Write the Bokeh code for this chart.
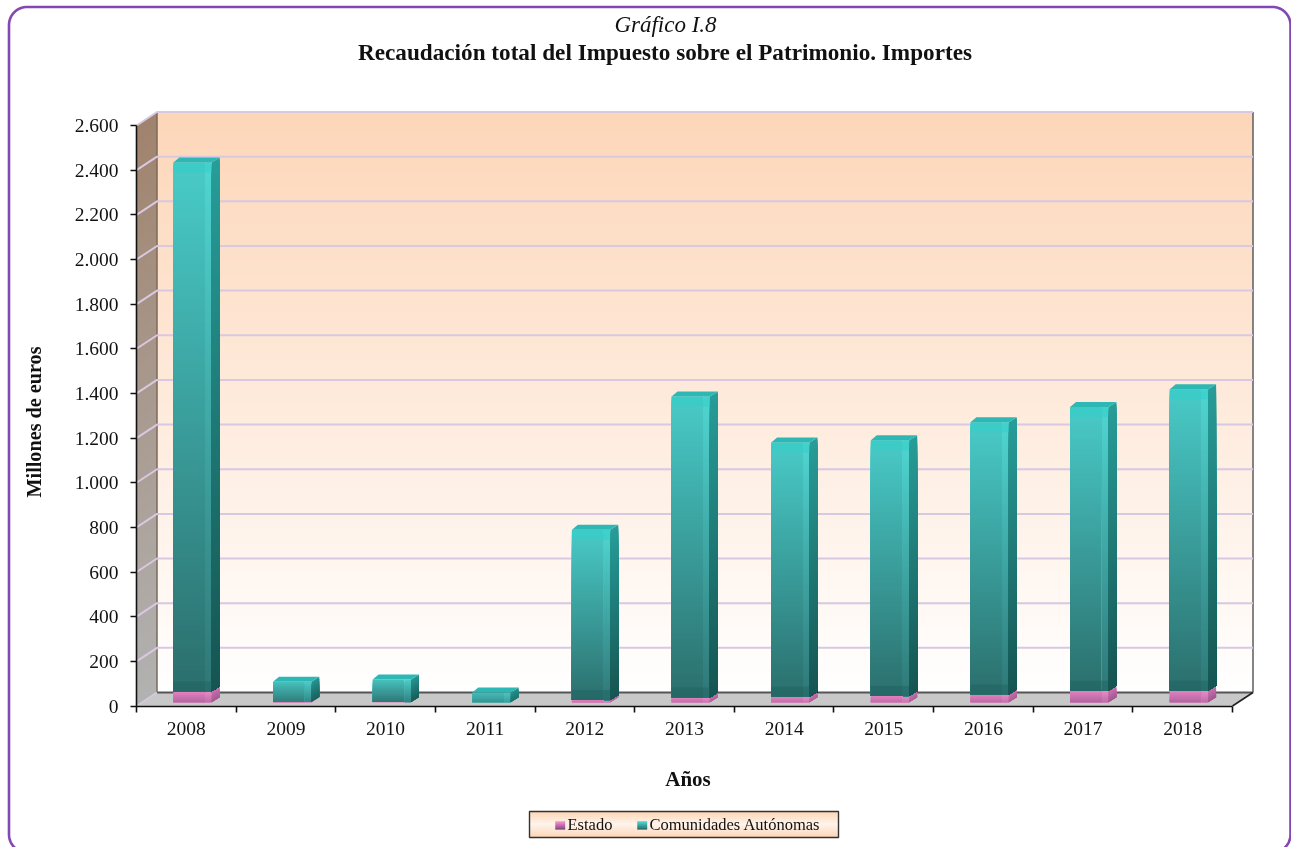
from bokeh.plotting import figure
from bokeh.models import Range1d, LinearAxis, FixedTicker
from bokeh.core.properties import value
from bokeh.embed import file_html
from bokeh.resources import INLINE
import numpy as np

years = ["2008", "2009", "2010", "2011", "2012", "2013", "2014", "2015", "2016", "2017", "2018"]
estado = [49, 2, 1, 0, 10, 22, 25, 28, 35, 52, 52]
ccaa = [2369, 90, 101, 44, 763, 1348, 1139, 1146, 1219, 1271, 1350]
y_ticks = list(range(0, 2601, 200))
y_tick_labels = ["0", "200", "400", "600", "800", "1.000", "1.200", "1.400", "1.600", "1.800", "2.000", "2.200", "2.400", "2.600"]

W, H = 1291, 847
X0, Y0 = 136.0, 705.5
PX = 99.636
PY = (705.5 - 125.0) / 2600
WALL_DX, WALL_DY = 20.5 / PX, 13.5 / PY
FONT = "Liberation Serif"


def hex2rgb(c):
    return np.array([int(c[i:i + 2], 16) for i in (1, 3, 5)], dtype=float)


def mix(a, b, t):
    v = hex2rgb(a) * (1 - t) + hex2rgb(b) * t
    return "#%02x%02x%02x" % tuple(int(round(k)) for k in v)


p = figure(width=W, height=H, output_backend="svg", toolbar_location=None,
           x_axis_type=None, y_axis_type=None,
           x_range=Range1d((0 - X0) / PX, (W - X0) / PX),
           y_range=Range1d(-(H - Y0) / PY, Y0 / PY),
           min_border=0, outline_line_color=None,
           styles={"position": "fixed", "left": "0px", "top": "0px"})
p.grid.visible = False
p.extra_x_ranges["px"] = Range1d(0, W)
p.extra_y_ranges["px"] = Range1d(H, 0)
PXR = dict(x_range_name="px", y_range_name="px")

# outer rounded frame
r, L, R, T, B = 18, 8.5, 1290, 6.5, 852
a = np.linspace(0, np.pi / 2, 20)
fx = np.concatenate([L + r - r * np.cos(a), R - r + r * np.sin(a), R - r + r * np.cos(a), L + r - r * np.sin(a), [L]])
fy = np.concatenate([T + r - r * np.sin(a), T + r - r * np.cos(a), B - r + r * np.sin(a), B - r + r * np.cos(a), [T + r]])
p.line(fx, fy, line_color="#8248b4", line_width=2.6, **PXR)

# back wall with vertical gradient, painted from the top down so no seams show
n = 145
edges = np.linspace(0, 2600, n + 1)
order = list(range(n - 1, -1, -1))
p.quad(left=WALL_DX, right=11 + WALL_DX, bottom=WALL_DY, top=[edges[i + 1] + WALL_DY for i in order],
       fill_color=[mix("#ffffff", "#fdd6b8", (i + .5) / n) for i in order], line_color=None)

# left wall
p.patches([[0, WALL_DX, WALL_DX, 0] for i in order],
          [[0, WALL_DY, edges[i + 1] + WALL_DY, edges[i + 1]] for i in order],
          fill_color=[mix("#b2b2b2", "#a0836d", (i + .5) / n) for i in order], line_color=None)

# floor
p.patch([0, WALL_DX, 11 + WALL_DX, 11], [0, WALL_DY, WALL_DY, 0], fill_color="#c8c8c8", line_color=None)
p.line([WALL_DX, 11 + WALL_DX], [WALL_DY, WALL_DY], line_color="#555555", line_width=2)
p.line([WALL_DX, WALL_DX], [WALL_DY, 2600 + WALL_DY], line_color="#7a6a5c", line_width=1.5)
p.line([11 + WALL_DX, 11 + WALL_DX], [WALL_DY, 2600 + WALL_DY], line_color="#666666", line_width=1.6)
p.line([11, 11 + WALL_DX], [0, WALL_DY], line_color="#222222", line_width=1.6)

# gridlines
for v in y_ticks[1:]:
    p.line([0, WALL_DX, 11 + WALL_DX], [v, v + WALL_DY, v + WALL_DY], line_color="#d8c8e2", line_width=2)
p.line([0, WALL_DX], [0, WALL_DY], line_color="#d8c8e2", line_width=1.5)

# 3D bars
BAR_L, BAR_R, STRIP = 0.37, 0.755, 0.065
DX, DY = 0.08, 5 / PY
BASE = 3.7 / PY
BEVEL = 10 / PY
STYLE = {
    "ca": dict(front=("#2b6f6d", "#49cbc8"), strip=("#2f7877", "#50d6d2"), side=("#165552", "#289d99"),
               top="#2db8b5", bevel_top="#30cdc8", bevel_bot="#1f6160"),
    "es": dict(front=("#8a4f88", "#f58cca"), strip=("#96588f", "#f994d2"), side=("#7c4679", "#dc78b8"),
               top="#f58ccb", bevel_top="#f58ccb", bevel_bot="#8a4f88"),
}


def draw_bar(i, lo, hi, st):
    if hi - lo <= 0:
        return
    h = (hi - lo) * PY
    m = max(6, int(h / 2))
    e = np.linspace(lo, hi, m + 1)
    bl, br = i + BAR_L, i + BAR_R
    short = min(1.0, 0.35 + h / 40)   # short bars keep a narrower colour range
    order = list(range(m - 1, -1, -1))

    def shade(pair):
        low = mix(pair[1], pair[0], short)
        top = mix(pair[1], pair[0], 0.22 * (1 - min(1.0, h / 40)))
        return [mix(low, top, (k + .5) / m) for k in order]

    p.quad(left=bl, right=br - STRIP, bottom=lo, top=[e[k + 1] for k in order],
           fill_color=shade(st["front"]), line_color=None)
    p.quad(left=br - STRIP, right=br, bottom=lo, top=[e[k + 1] for k in order],
           fill_color=shade(st["strip"]), line_color=None)
    p.patches([[br, br + DX, br + DX, br] for k in order],
              [[lo, lo + DY, e[k + 1] + DY, e[k + 1]] for k in order],
              fill_color=shade(st["side"]), line_color=None)
    if h > 30:
        p.quad(left=bl, right=br, bottom=hi - BEVEL, top=hi, fill_color=st["bevel_top"], fill_alpha=0.5, line_color=None)
        p.quad(left=bl, right=br, bottom=lo, top=lo + BEVEL, fill_color=st["bevel_bot"], fill_alpha=0.45, line_color=None)
    p.patch([bl, bl + DX * 0.75, br + DX, br], [hi, hi + DY, hi + DY, hi],
            fill_color=st["top"], line_color=None)


for i in range(len(years)):
    draw_bar(i, BASE, BASE + estado[i], STYLE["es"])
    draw_bar(i, BASE + estado[i], BASE + estado[i] + ccaa[i], STYLE["ca"])

# axes
yaxis = LinearAxis(fixed_location=0, bounds=(0, 2600), ticker=FixedTicker(ticks=y_ticks),
                   major_label_overrides=dict(zip(y_ticks, y_tick_labels)),
                   axis_line_color="#111111", axis_line_width=1.6,
                   major_tick_line_color="#111111", major_tick_line_width=1.6,
                   major_tick_out=6, major_tick_in=0, minor_tick_line_color=None,
                   major_label_text_font=FONT, major_label_text_font_size="19.5px",
                   major_label_text_color="#111111", major_label_standoff=12)
p.add_layout(yaxis, "left")

xticks = LinearAxis(fixed_location=0, bounds=(0, 11), ticker=FixedTicker(ticks=list(range(12))),
                    major_label_text_font_size="0px", major_label_text_color=None,
                    axis_line_color="#111111", axis_line_width=1.6,
                    major_tick_line_color="#111111", major_tick_line_width=1.6,
                    major_tick_out=6, major_tick_in=0, minor_tick_line_color=None)
p.add_layout(xticks, "below")

centres = [i + 0.5 for i in range(len(years))]
xlabels = LinearAxis(fixed_location=0, bounds=(0, 11), ticker=FixedTicker(ticks=centres),
                     major_label_overrides=dict(zip(centres, years)),
                     axis_line_color=None, major_tick_line_color=None, minor_tick_line_color=None,
                     major_label_text_font=FONT, major_label_text_font_size="19.5px",
                     major_label_text_color="#111111", major_label_standoff=10)
p.add_layout(xlabels, "below")


def txt(x, y, s, size, style="normal", angle=0.0, align="center", color="#111111"):
    p.text([x], [y], text=[s], text_font=value(FONT), text_font_size=value(size), text_font_style=value(style),
           text_align=value(align), text_baseline=value("middle"), text_color=value(color), angle=angle, **PXR)


txt(665, 24, "Gráfico I.8", "23px", "italic")
txt(664.5, 51, "Recaudación total del Impuesto sobre el Patrimonio. Importes", "23.2px", "bold")
txt(33, 421.5, "Millones de euros", "20.2px", "bold", angle=np.pi / 2)
txt(687.5, 778, "Años", "21px", "bold")

# legend
LX0, LX1, LY0, LY1 = 529, 838, 811, 837
m = 13
ly = np.linspace(LY0, LY1, m + 1)
lg = [mix("#fdd4b3", "#fff4ec", 1 - abs((k + .5) / m - .5) * 2) for k in range(m)]
p.quad(left=LX0, right=LX1, top=ly[:-1], bottom=ly[1:], fill_color=lg, line_color=lg, line_width=0.6, **PXR)
p.quad(left=LX0, right=LX1, top=LY0, bottom=LY1, fill_color=None, line_color="#333333", line_width=1.4, **PXR)
for sx, cols in ((555, ("#f286c8", "#8a4f88")), (637, ("#49cbc8", "#2a7372"))):
    sy = np.linspace(821, 829, 5)
    sc = [mix(cols[0], cols[1], k / 3) for k in range(4)]
    p.quad(left=sx, right=sx + 9.5, top=sy[:-1], bottom=sy[1:], fill_color=sc, line_color=sc, line_width=0.4, **PXR)
txt(567, 824, "Estado", "16.5px", align="left")
txt(649, 824, "Comunidades Autónomas", "16.5px", align="left")

open("out.html", "w").write(file_html(p, INLINE))
